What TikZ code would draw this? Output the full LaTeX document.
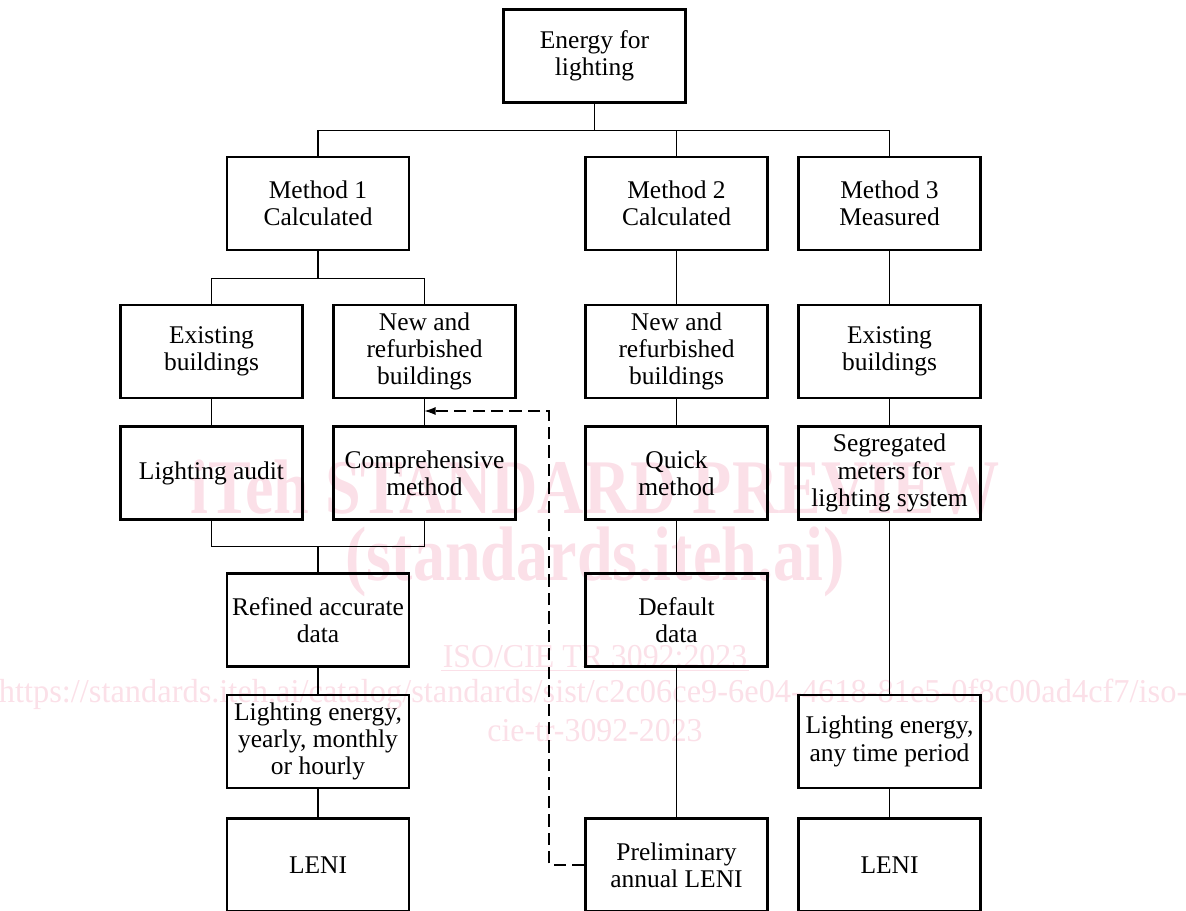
\documentclass[tikz,border=0pt]{standalone}
\usepackage{fontspec}
\setmainfont{Liberation Serif}
\usetikzlibrary{arrows.meta, positioning}
\definecolor{wmpink}{RGB}{251,224,232}

\begin{document}
\begin{tikzpicture}[
    x=0.02cm, y=-0.02cm,
    box/.style={rectangle, draw=black, line width=1.4pt, minimum width=3.64cm, minimum height=1.86cm, align=center, inner sep=2pt, font=\fontsize{14.5}{15.5}\selectfont},
    link/.style={line width=0.6pt},
    back/.style={-{Latex[length=2.2mm, width=1.6mm]}, line width=0.6pt, dash pattern=on 7pt off 3.5pt},
    wmark/.style={text=wmpink, inner sep=1pt, xscale=0.83},
    wmsmall/.style={wmark, xscale=1.15, font=\fontsize{19}{19}\selectfont}
]
    \useasboundingbox (0,0) rectangle (1186,910);

    % Watermark
    \node[wmark, font=\bfseries\fontsize{44}{44}\selectfont] (wmtitle) at (595,487) {iTeh STANDARD PREVIEW};
    \node[wmark, font=\bfseries\fontsize{44}{44}\selectfont] (wmsite) at (595,562) {(standards.iteh.ai)};
    \node[wmsmall] (wmiso) at (595,657) {ISO/CIE TR 3092:2023};
    \node[wmark, xscale=1.17, font=\fontsize{19}{19}\selectfont] (wmurl) at (593,694) {https://standards.iteh.ai/catalog/standards/sist/c2c06ce9-6e04-4618-81e5-0f8c00ad4cf7/iso-};
    \node[wmsmall] (wmcie) at (595,731) {cie-tr-3092-2023};
    \draw[wmpink, line width=1pt] (wmiso.south west) -- (wmiso.south east);

    % Nodes
    \node[box] (energy) at (594.5,56) {Energy for\\lighting};

    \node[box] (m1) at (318,203.5) {Method 1\\Calculated};
    \node[box] (m2) at (676.5,203.5) {Method 2\\Calculated};
    \node[box] (m3) at (889.5,203.5) {Method 3\\Measured};

    \node[box] (exist1) at (211.5,351.5) {Existing\\buildings};
    \node[box] (new1) at (424.5,351.5) {New and\\refurbished\\buildings};
    \node[box] (new2) at (676.5,351.5) {New and\\refurbished\\buildings};
    \node[box] (exist3) at (889.5,351.5) {Existing\\buildings};

    \node[box] (audit) at (211.5,473) {Lighting audit};
    \node[box] (compr) at (424.5,473) {Comprehensive\\method};
    \node[box] (quick) at (676.5,473) {Quick\\method};
    \node[box] (meters) at (889.5,473) {Segregated\\meters for\\lighting system};

    \node[box] (refined) at (318,620) {Refined accurate\\data};
    \node[box] (default) at (676.5,620) {Default\\data};

    \node[box] (energy1) at (318,741.5) {Lighting energy,\\yearly, monthly\\or hourly};
    \node[box] (energy3) at (889.5,741.5) {Lighting energy,\\any time period};

    \node[box] (leni1) at (318,865) {LENI};
    \node[box] (prelim) at (676.5,865) {Preliminary\\annual LENI};
    \node[box] (leni3) at (889.5,865) {LENI};

    % Tree lines
    \draw[link] (energy.south) -- +(0,27) coordinate (bus);
    \draw[link] (m1.north) |- (bus) -| (m3.north);
    \draw[link] (m2.north) -- (m2.north |- bus);

    \draw[link] (m1.south) -- +(0,27) coordinate (split1);
    \draw[link] (exist1.north) |- (split1) -| (new1.north);

    \draw[link] (refined.north) -- +(0,-26) coordinate (join1);
    \draw[link] (audit.south) |- (join1) -| (compr.south);

    \draw[link] (m2) -- (new2);
    \draw[link] (m3) -- (exist3);
    \draw[link] (exist1) -- (audit);
    \draw[link] (new1) -- (compr);
    \draw[link] (new2) -- (quick);
    \draw[link] (exist3) -- (meters);
    \draw[link] (quick) -- (default);
    \draw[link] (meters) -- (energy3);
    \draw[link] (refined) -- (energy1);
    \draw[link] (energy1) -- (leni1);
    \draw[link] (default) -- (prelim);
    \draw[link] (energy3) -- (leni3);

    % Feedback
    \coordinate (turn) at (549,411);
    \draw[back] (prelim.west) -| (turn) -- (turn -| new1.south);
\end{tikzpicture}
\end{document}
